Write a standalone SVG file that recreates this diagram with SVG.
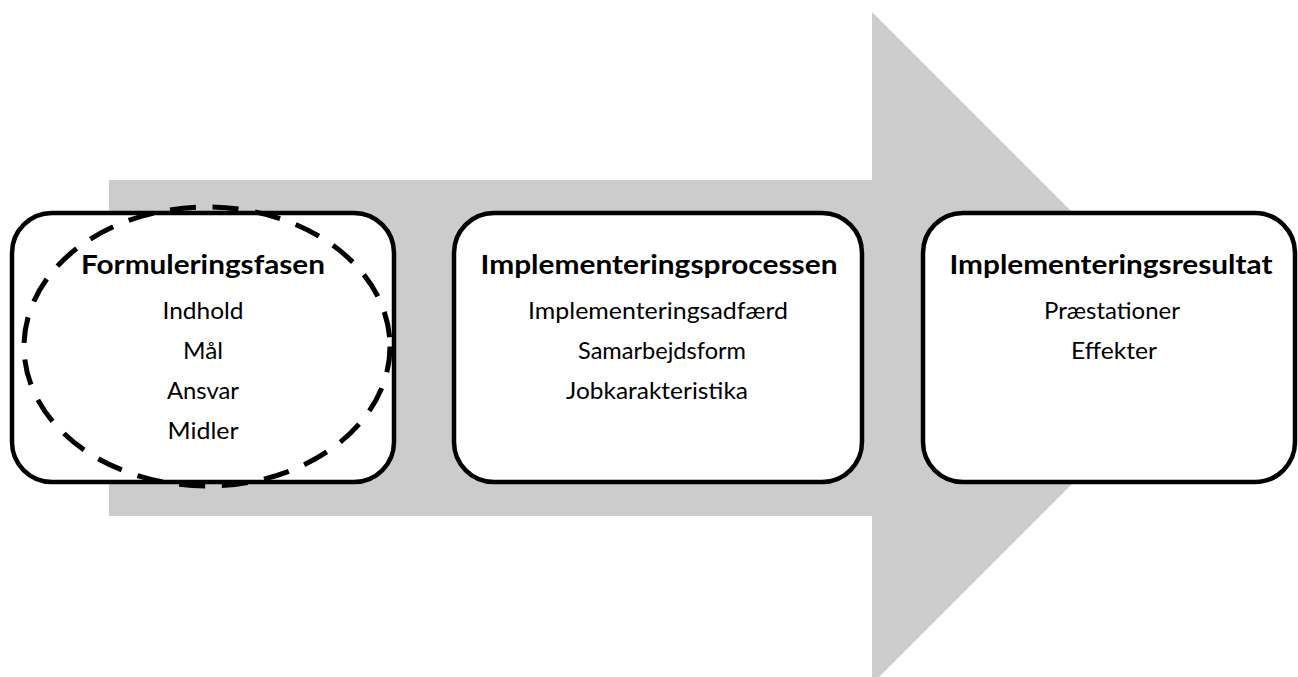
<svg xmlns="http://www.w3.org/2000/svg" width="1298" height="677" viewBox="0 0 1298 677">
  <style>
    .box { fill: #ffffff; stroke: #000000; stroke-width: 4.5; }
    .title { font-family: Lato, "Liberation Sans", sans-serif; font-weight: bold; font-size: 26px; fill: #000000; text-anchor: middle; }
    .item { font-family: Lato, "Liberation Sans", sans-serif; font-size: 23px; fill: #000000; text-anchor: middle; }
  </style>
  <rect width="1298" height="677" fill="#ffffff"/>

  <!-- big process arrow in the background -->
  <g id="connectors">
    <polygon points="109,180 872,180 872,12 1208,348 872,684 872,516 109,516" fill="#cccccc"/>
  </g>

  <g id="node-formulering">
    <rect class="box" x="12" y="213" width="382" height="269" rx="40" ry="40"/>
    <text class="title" x="203" y="274" textLength="244" lengthAdjust="spacingAndGlyphs">Formuleringsfasen</text>
    <text class="item" x="203" y="319" textLength="81" lengthAdjust="spacingAndGlyphs">Indhold</text>
    <text class="item" x="203" y="359" textLength="40" lengthAdjust="spacingAndGlyphs">Mål</text>
    <text class="item" x="203" y="399" textLength="72" lengthAdjust="spacingAndGlyphs">Ansvar</text>
    <text class="item" x="203" y="439" textLength="71" lengthAdjust="spacingAndGlyphs">Midler</text>
  </g>

  <g id="node-processen">
    <rect class="box" x="454" y="213" width="408" height="269" rx="40" ry="40"/>
    <text class="title" x="659" y="274" textLength="357" lengthAdjust="spacingAndGlyphs">Implementeringsprocessen</text>
    <text class="item" x="658" y="319" textLength="260" lengthAdjust="spacingAndGlyphs">Implementeringsadfærd</text>
    <text class="item" x="662" y="359" textLength="168" lengthAdjust="spacingAndGlyphs">Samarbejdsform</text>
    <text class="item" x="657" y="399" textLength="182" lengthAdjust="spacingAndGlyphs">Jobkarakteristika</text>
  </g>

  <g id="node-resultat">
    <rect class="box" x="923" y="213" width="372" height="269" rx="40" ry="40"/>
    <text class="title" x="1111" y="274" textLength="323" lengthAdjust="spacingAndGlyphs">Implementeringsresultat</text>
    <text class="item" x="1112" y="319" textLength="136" lengthAdjust="spacingAndGlyphs">Præstationer</text>
    <text class="item" x="1114" y="359" textLength="86" lengthAdjust="spacingAndGlyphs">Effekter</text>
  </g>

  <!-- dashed highlight around the first phase -->
  <g id="highlight">
    <ellipse cx="207" cy="346.5" rx="183" ry="139.5" fill="none" stroke="#000000" stroke-width="5" stroke-dasharray="26 16.7"/>
  </g>
</svg>
